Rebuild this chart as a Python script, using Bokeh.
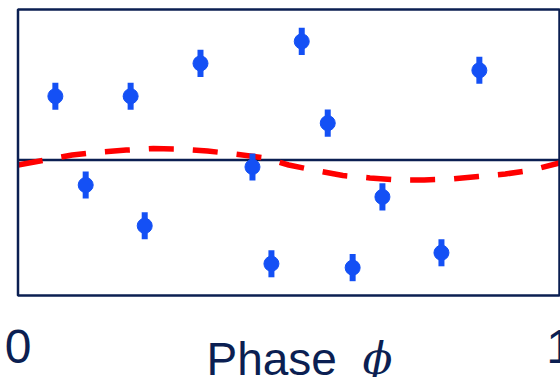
from bokeh.plotting import figure
from bokeh.models import Label, BoxAnnotation
from bokeh.core.properties import value
from bokeh.embed import file_html
from bokeh.resources import INLINE

# data
phase = [0.069, 0.125, 0.208, 0.234, 0.337, 0.433, 0.468, 0.524, 0.572, 0.618, 0.673, 0.782, 0.852]
signal = [0.424, -0.166, 0.424, -0.437, 0.642, -0.046, -0.689, 0.788, 0.245, -0.715, -0.245, -0.616, 0.596]
error = [0.09] * 13

fit_x = [0.0, 0.05, 0.1, 0.15, 0.2, 0.25, 0.3, 0.35, 0.4, 0.45, 0.5, 0.55, 0.6, 0.65, 0.7, 0.75, 0.8, 0.85, 0.9, 0.95, 1.0]
fit_y = [-0.033, 0.0, 0.033, 0.053, 0.066, 0.076, 0.073, 0.06, 0.04, 0.017, -0.033, -0.07, -0.103, -0.119, -0.132, -0.132, -0.126, -0.109, -0.093, -0.066, -0.02]

tick_values = [0, 1]
tick_labels = ["0", "1"]
x_title = "Phase"
x_symbol = "ϕ"

# axis box (data limits of the panel)
X_MIN, X_MAX = 0.0, 1.0
Y_MIN, Y_MAX = -0.9, 1.0

NAVY = "#0b1f52"
BLUE = "#1450f5"

W, H = 560, 377
BOX_L, BOX_R, BOX_T, BOX_B = 17.5, 559.0, 9.0, 295.0   # pixel edges of the drawn box
sx = (BOX_R - BOX_L) / (X_MAX - X_MIN)
sy = (BOX_B - BOX_T) / (Y_MAX - Y_MIN)
x_range = (X_MIN - BOX_L / sx, X_MAX + (W - BOX_R) / sx)
y_range = (Y_MIN - (H - BOX_B) / sy, Y_MAX + BOX_T / sy)

p = figure(width=W, height=H, x_range=x_range, y_range=y_range,
           output_backend="svg", toolbar_location=None,
           x_axis_location=None, y_axis_location=None,
           min_border=0)
p.grid.visible = False
p.outline_line_color = None
p.background_fill_color = "white"
p.border_fill_color = "white"

# panel box
p.add_layout(BoxAnnotation(left=X_MIN, right=X_MAX, bottom=Y_MIN, top=Y_MAX,
                           fill_alpha=0, line_color=NAVY, line_width=2.5, line_alpha=1))
# zero line
p.segment(x0=X_MIN, y0=0, x1=X_MAX, y1=0, line_color=NAVY, line_width=2.5)

# fitted curve
p.line(fit_x, fit_y, line_color="#ff0000", line_width=5.5, line_dash="25 19")

# data with error bars
y0 = [s - e for s, e in zip(signal, error)]
y1 = [s + e for s, e in zip(signal, error)]
p.segment(x0=phase, y0=y0, x1=phase, y1=y1, line_color=BLUE, line_width=6)
p.scatter(phase, signal, size=15, color=BLUE)

# x tick labels
p.text(x=tick_values, y=[Y_MIN] * len(tick_values), text=tick_labels,
       text_font=value("Liberation Sans"), text_font_size=value("48px"),
       text_color=NAVY, text_align="center", text_baseline="alphabetic", y_offset=51)

# x axis title
p.add_layout(Label(x=206, y=H - 358, x_units="screen", y_units="screen", text=x_title,
                   text_font="Liberation Sans", text_font_size="46px", text_color=NAVY,
                   text_align="left", text_baseline="alphabetic"))
p.add_layout(Label(x=362, y=H - 358, x_units="screen", y_units="screen", text=x_symbol,
                   text_font="DejaVu Serif", text_font_style="italic",
                   text_font_size="44px", text_color=NAVY,
                   text_align="left", text_baseline="alphabetic"))

open("out.html", "w").write(file_html(p, INLINE))
